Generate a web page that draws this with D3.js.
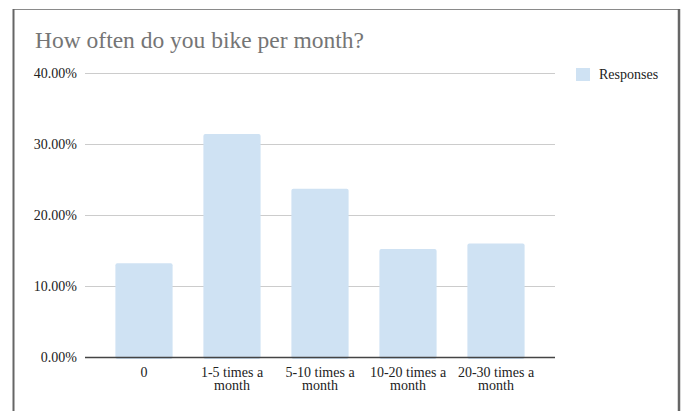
<!DOCTYPE html>
<html>
<head>
<meta charset="utf-8">
<script src="https://cdn.jsdelivr.net/npm/d3@7"></script>
<style>
  body { margin: 0; background: #fff; }
  svg { display: block; }
  svg text { font-family: "Liberation Serif", "Tinos", "DejaVu Serif", serif; }
</style>
</head>
<body>
<div id="chart"></div>
<script>
// Data
const categories = ["0", "1-5 times a month", "5-10 times a month", "10-20 times a month", "20-30 times a month"];
const responses = [13.2, 31.4, 23.7, 15.2, 16.0];
const yTicks = [0, 10, 20, 30, 40];
const seriesName = "Responses";

const width = 686, height = 411;

let svg = d3.select("#chart").append("svg")
    .attr("width", width)
    .attr("height", height);

// panel frame (left, top, right edges)
svg.append("line")
    .attr("x1", 13).attr("x2", 679).attr("y1", 9.5).attr("y2", 9.5)
    .attr("stroke", "#8a8a8a").attr("stroke-width", 1);
svg.append("line")
    .attr("x1", 13.5).attr("x2", 13.5).attr("y1", 9).attr("y2", height)
    .attr("stroke", "#666").attr("stroke-width", 2);
svg.append("line")
    .attr("x1", 679).attr("x2", 679).attr("y1", 9).attr("y2", height)
    .attr("stroke", "#666").attr("stroke-width", 2.5);

// title
svg.append("text")
    .attr("x", 35)
    .attr("y", 48)
    .attr("font-size", "23.5px")
    .attr("fill", "#757575")
    .text("How often do you bike per month?");

// scales
let y = d3.scaleLinear().domain([0, 40]).range([357, 73]);
let x = d3.scaleBand().domain(categories).range([100, 540]).paddingInner(0.35).paddingOuter(0.175);

const gridLeft = 85, gridRight = 555;

// gridlines
svg.append("g")
    .selectAll("line")
    .data(yTicks.filter(d => d > 0))
    .enter().append("line")
    .attr("x1", gridLeft)
    .attr("x2", gridRight)
    .attr("y1", d => Math.round(y(d)) + 0.5)
    .attr("y2", d => Math.round(y(d)) + 0.5)
    .attr("stroke", "#cccccc")
    .attr("stroke-width", 1);

// y tick labels
svg.append("g")
    .selectAll("text")
    .data(yTicks)
    .enter().append("text")
    .attr("x", 77)
    .attr("y", d => y(d) + 4.5)
    .attr("text-anchor", "end")
    .attr("font-size", "14px")
    .attr("fill", "#222")
    .text(d => d.toFixed(2) + "%");

// bars
svg.append("g")
    .selectAll("rect")
    .data(responses)
    .enter().append("rect")
    .attr("x", (d, i) => x(categories[i]))
    .attr("y", d => y(d))
    .attr("width", x.bandwidth())
    .attr("height", d => y(0) - y(d) + 2)
    .attr("rx", 2)
    .attr("fill", "#cfe2f3");

// baseline
svg.append("line")
    .attr("x1", gridLeft)
    .attr("x2", gridRight)
    .attr("y1", y(0) + 0.5)
    .attr("y2", y(0) + 0.5)
    .attr("stroke", "#444")
    .attr("stroke-width", 1.5);

// x labels, wrapped onto two lines
let xl = svg.append("g")
    .selectAll("text")
    .data(categories)
    .enter().append("text")
    .attr("text-anchor", "middle")
    .attr("font-size", "14px")
    .attr("fill", "#222");

xl.each(function(d) {
    let t = d3.select(this);
    let cx = x(d) + x.bandwidth() / 2;
    let m = d.match(/^(.*) (month)$/);
    let lines = m ? [m[1], m[2]] : [d];
    lines.forEach((s, i) => {
        t.append("tspan")
            .attr("x", cx)
            .attr("y", 376.5 + i * 13.5)
            .text(s);
    });
});

// legend
let legend = svg.append("g").attr("transform", "translate(576,68)");
legend.append("rect")
    .attr("width", 14)
    .attr("height", 13)
    .attr("fill", "#cfe2f3");
legend.append("text")
    .attr("x", 23)
    .attr("y", 11)
    .attr("font-size", "14px")
    .attr("fill", "#222")
    .text(seriesName);
</script>
</body>
</html>
